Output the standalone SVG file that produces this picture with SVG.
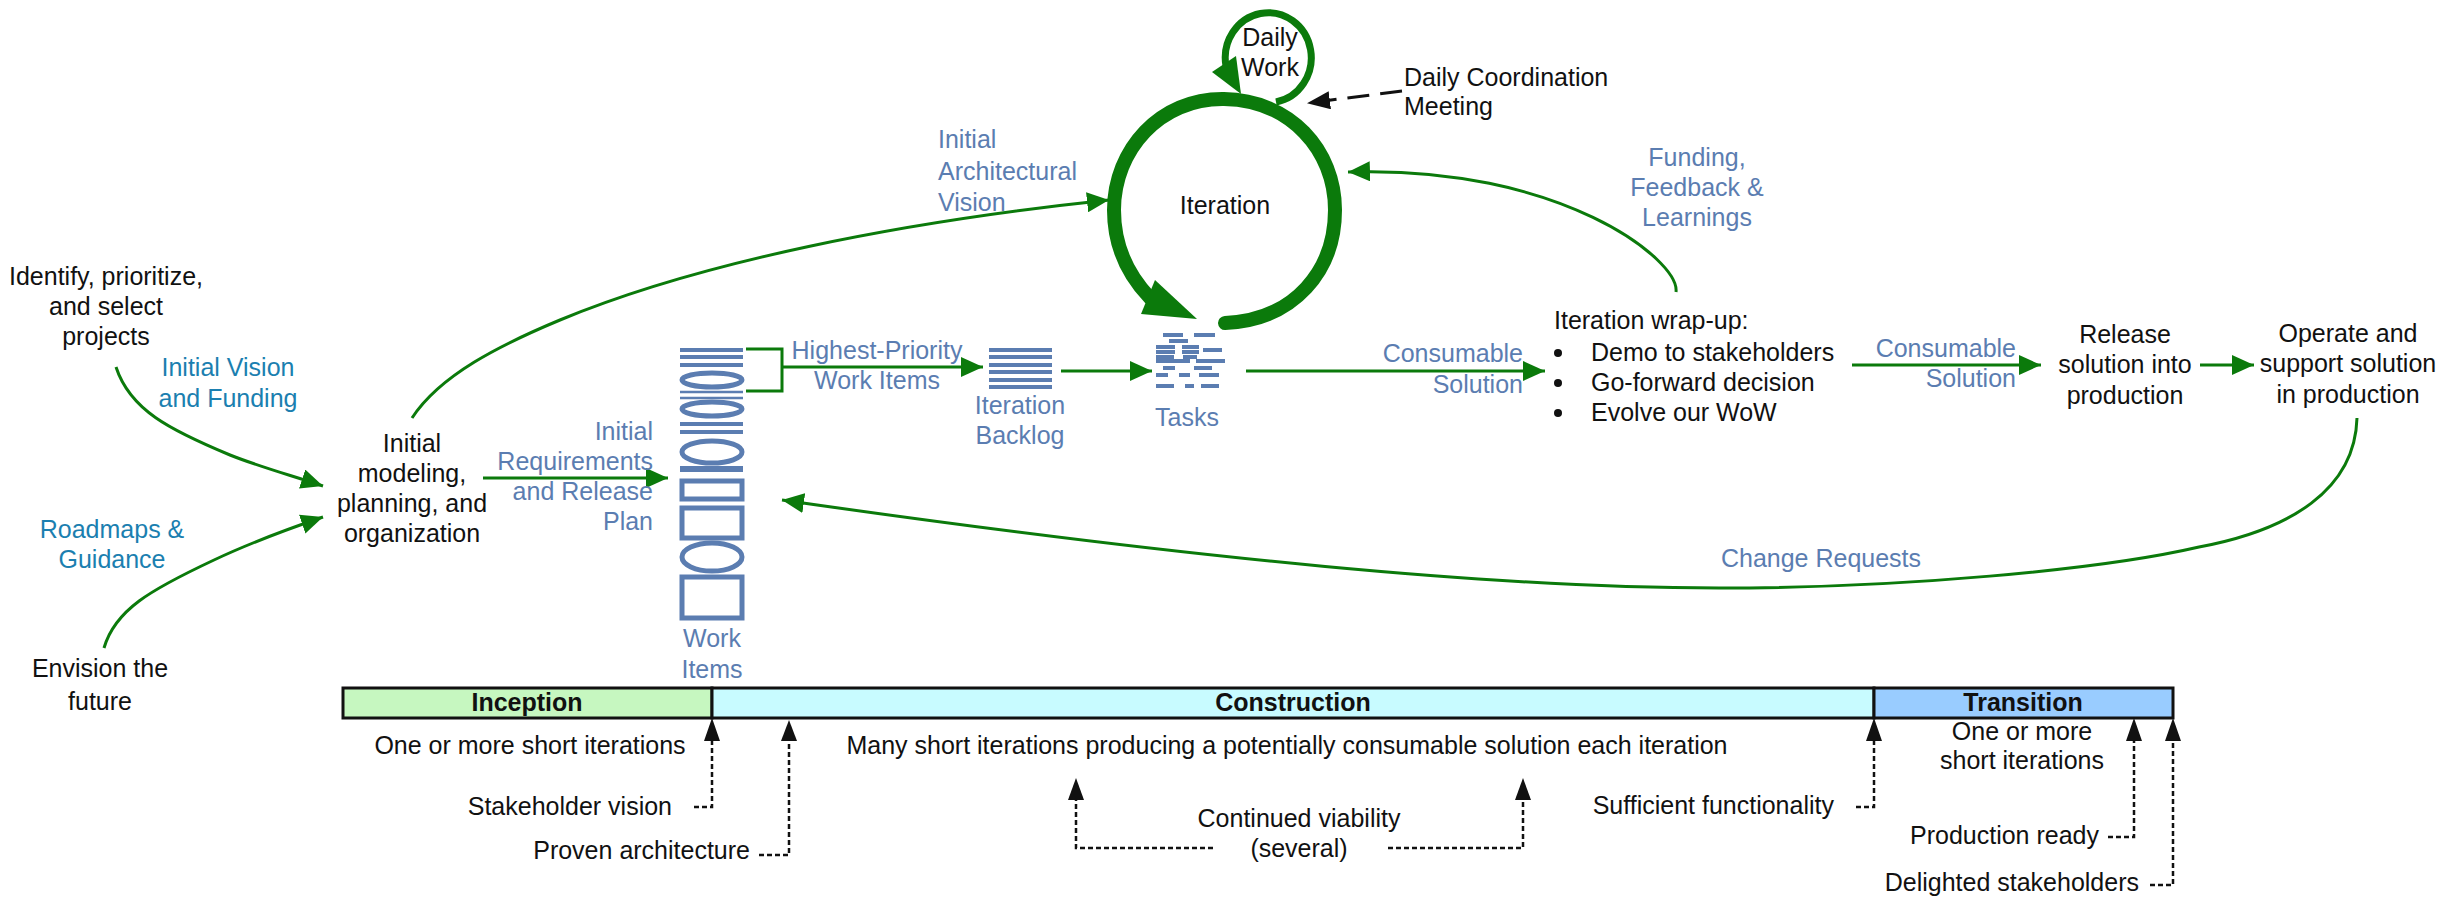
<svg xmlns="http://www.w3.org/2000/svg" width="2446" height="900" viewBox="0 0 2446 900">
<style>
text{font-family:"Liberation Sans",Arial,sans-serif;font-size:25px;fill:#111}
.b{fill:#5b7db1}.t{fill:#1b7fb0}.m{text-anchor:middle}.e{text-anchor:end}
.h{font-weight:bold;text-anchor:middle}
.g{fill:none;stroke:#0b7a0b;stroke-width:3}
.d{fill:none;stroke:#111;stroke-width:2.5;stroke-dasharray:5 3}
.i{fill:none;stroke:#5b7db1;stroke-width:5}
.l{fill:none;stroke:#5b7db1;stroke-width:4}
</style>
<defs>
<marker id="ga" markerUnits="userSpaceOnUse" markerWidth="24" markerHeight="20" refX="22" refY="10" orient="auto"><path d="M0 0L22 10L0 20Z" fill="#0b7a0b"/></marker>
<marker id="ka" markerUnits="userSpaceOnUse" markerWidth="24" markerHeight="18" refX="22" refY="9" orient="auto"><path d="M0 0L23 9L0 18Z" fill="#111"/></marker>
</defs>
<g id="connectors">
<path class="g" d="M116 367C130 410 170 430 230 455C260 467 290 475 323 486" marker-end="url(#ga)"/>
<path class="g" d="M104 648C115 610 150 590 214 560C250 543 285 530 323 517" marker-end="url(#ga)"/>
<path class="g" d="M412 418C440 375 500 345 560 320C700 262 900 222 1109 200" marker-end="url(#ga)"/>
<path class="g" d="M483 478H668" marker-end="url(#ga)"/>
<path class="g" d="M746 349H782V391H746"/>
<path class="g" d="M782 367H983" marker-end="url(#ga)"/>
<path class="g" d="M1061 371H1152" marker-end="url(#ga)"/>
<path class="g" d="M1246 371H1545" marker-end="url(#ga)"/>
<path class="g" d="M1676 292C1680 260 1560 165 1348 172" marker-end="url(#ga)"/>
<path class="g" d="M1852 365H2041" marker-end="url(#ga)"/>
<path class="g" d="M2200 365H2254" marker-end="url(#ga)"/>
<path class="g" d="M2357 418C2355 490 2290 530 2199 547C2100 570 1900 588 1719 588C1500 588 1200 560 782 500" marker-end="url(#ga)"/>
<path d="M1402 91L1308 103" fill="none" stroke="#111" stroke-width="3" stroke-dasharray="22 11" marker-end="url(#ka)"/>
<path class="d" d="M694 807H712V741"/>
<path class="d" d="M759 855H789V741"/>
<path class="d" d="M1213 848H1076V800"/>
<path class="d" d="M1388 848H1523V800"/>
<path class="d" d="M1856 807H1874V741"/>
<path class="d" d="M2108 837H2134V741"/>
<path class="d" d="M2150 885H2173V741"/>
<g fill="#111">
<path d="M712 718L704 741H720Z"/><path d="M789 720L781 741H797Z"/><path d="M1076 778L1068 800H1084Z"/><path d="M1523 778L1515 800H1531Z"/><path d="M1874 718L1866 741H1882Z"/><path d="M2134 718L2126 741H2142Z"/><path d="M2173 718L2165 741H2181Z"/>
</g>
</g>
<g id="iteration">
<path d="M1225 323C1295 320 1335 270 1335 210C1335 150 1290 100 1224 99C1160 98 1114 150 1114 210C1114 245 1128 275 1150 298" fill="none" stroke="#0b7a0b" stroke-width="14" stroke-linecap="round"/>
<path d="M1155 280L1141 314L1197 319Z" fill="#0b7a0b"/>
<text class="m" x="1225" y="214">Iteration</text>
</g>
<g id="daily-work">
<path d="M1276 102A43 45 0 1 0 1226 66" fill="none" stroke="#0b7a0b" stroke-width="7"/>
<path d="M1212 72L1236 56L1241 94Z" fill="#0b7a0b"/>
<text class="m" x="1270" y="46">Daily</text><text class="m" x="1270" y="76">Work</text>
</g>
<g id="daily-coordination"><text x="1404" y="86">Daily Coordination</text><text x="1404" y="115">Meeting</text></g>
<g id="identify"><text class="m" x="106" y="285">Identify, prioritize,</text><text class="m" x="106" y="315">and select</text><text class="m" x="106" y="345">projects</text></g>
<g id="vision-funding"><text class="m t" x="228" y="376">Initial Vision</text><text class="m t" x="228" y="407">and Funding</text></g>
<g id="roadmaps"><text class="m t" x="112" y="538">Roadmaps &amp;</text><text class="m t" x="112" y="568">Guidance</text></g>
<g id="envision"><text class="m" x="100" y="677">Envision the</text><text class="m" x="100" y="710">future</text></g>
<g id="initial-modeling"><text class="m" x="412" y="452">Initial</text><text class="m" x="412" y="482">modeling,</text><text class="m" x="412" y="512">planning, and</text><text class="m" x="412" y="542">organization</text></g>
<g id="initial-req"><text class="b e" x="653" y="440">Initial</text><text class="b e" x="653" y="470">Requirements</text><text class="b e" x="653" y="500">and Release</text><text class="b e" x="653" y="530">Plan</text></g>
<g id="arch-vision"><text class="b" x="938" y="148">Initial</text><text class="b" x="938" y="180">Architectural</text><text class="b" x="938" y="211">Vision</text></g>
<g id="work-items">
<path class="l" d="M680 350H743M680 357H743M680 365H743M680 424H743M680 432H743"/>
<path d="M680 392H743M680 398H743" fill="none" stroke="#5b7db1" stroke-width="2.5"/>
<path d="M680 469H743" fill="none" stroke="#5b7db1" stroke-width="6"/>
<ellipse class="i" cx="712" cy="380" rx="30" ry="7"/>
<ellipse class="i" cx="712" cy="409" rx="30" ry="7"/>
<ellipse class="i" cx="712" cy="452" rx="30" ry="11"/>
<rect class="i" x="682" y="481" width="60" height="18"/>
<rect class="i" x="682" y="508" width="60" height="30"/>
<ellipse class="i" cx="712" cy="557" rx="30" ry="14"/>
<rect class="i" x="682" y="577" width="60" height="41"/>
<text class="b m" x="712" y="647">Work</text><text class="b m" x="712" y="678">Items</text>
</g>
<g id="highest-priority"><text class="b m" x="877" y="359">Highest-Priority</text><text class="b m" x="877" y="389">Work Items</text></g>
<g id="iteration-backlog">
<path class="l" d="M989 350H1052M989 357H1052M989 365H1052M989 372H1052M989 380H1052M989 387H1052"/>
<text class="b m" x="1020" y="414">Iteration</text><text class="b m" x="1020" y="444">Backlog</text>
</g>
<g id="tasks">
<path class="l" d="M1163 335H1183M1194 335H1215M1169 341H1188M1156 347H1175M1182 347H1199M1156 352H1175M1182 352H1199M1203 350H1222M1156 357H1174M1183 357H1197M1156 361H1190M1196 361H1225M1163 368H1175M1194 368H1212M1156 375H1168M1179 375H1190M1199 375H1219M1156 386H1174M1185 386H1194M1201 386H1219"/>
<text class="b m" x="1187" y="426">Tasks</text>
</g>
<g id="consumable1"><text class="b e" x="1523" y="362">Consumable</text><text class="b e" x="1523" y="393">Solution</text></g>
<g id="funding"><text class="b m" x="1697" y="166">Funding,</text><text class="b m" x="1697" y="196">Feedback &amp;</text><text class="b m" x="1697" y="226">Learnings</text></g>
<g id="wrap-up">
<text x="1554" y="329">Iteration wrap-up:</text>
<circle cx="1558" cy="353" r="4" fill="#111"/><circle cx="1558" cy="383" r="4" fill="#111"/><circle cx="1558" cy="413" r="4" fill="#111"/>
<text x="1591" y="361">Demo to stakeholders</text><text x="1591" y="391">Go-forward decision</text><text x="1591" y="421">Evolve our WoW</text>
</g>
<g id="consumable2"><text class="b e" x="2016" y="357">Consumable</text><text class="b e" x="2016" y="387">Solution</text></g>
<g id="release"><text class="m" x="2125" y="343">Release</text><text class="m" x="2125" y="373">solution into</text><text class="m" x="2125" y="404">production</text></g>
<g id="operate"><text class="m" x="2348" y="342">Operate and</text><text class="m" x="2348" y="372">support solution</text><text class="m" x="2348" y="403">in production</text></g>
<g id="change-requests"><text class="b m" x="1821" y="567">Change Requests</text></g>
<g id="phases">
<rect x="343" y="688" width="369" height="30" fill="#c6f7c0" stroke="#111" stroke-width="3"/>
<rect x="712" y="688" width="1162" height="30" fill="#c8fbff" stroke="#111" stroke-width="3"/>
<rect x="1874" y="688" width="299" height="30" fill="#99ccff" stroke="#111" stroke-width="3"/>
<text class="h" x="527" y="711">Inception</text><text class="h" x="1293" y="711">Construction</text><text class="h" x="2023" y="711">Transition</text>
</g>
<g id="phase-notes">
<text class="m" x="530" y="754">One or more short iterations</text>
<text class="m" x="1287" y="754">Many short iterations producing a potentially consumable solution each iteration</text>
<text class="m" x="2022" y="740">One or more</text><text class="m" x="2022" y="769">short iterations</text>
</g>
<g id="stakeholder-vision"><text class="e" x="672" y="815">Stakeholder vision</text></g>
<g id="proven-architecture"><text class="e" x="750" y="859">Proven architecture</text></g>
<g id="continued-viability"><text class="m" x="1299" y="827">Continued viability</text><text class="m" x="1299" y="857">(several)</text></g>
<g id="sufficient-functionality"><text class="e" x="1834" y="814">Sufficient functionality</text></g>
<g id="production-ready"><text class="e" x="2099" y="844">Production ready</text></g>
<g id="delighted-stakeholders"><text class="e" x="2139" y="891">Delighted stakeholders</text></g>
</svg>
